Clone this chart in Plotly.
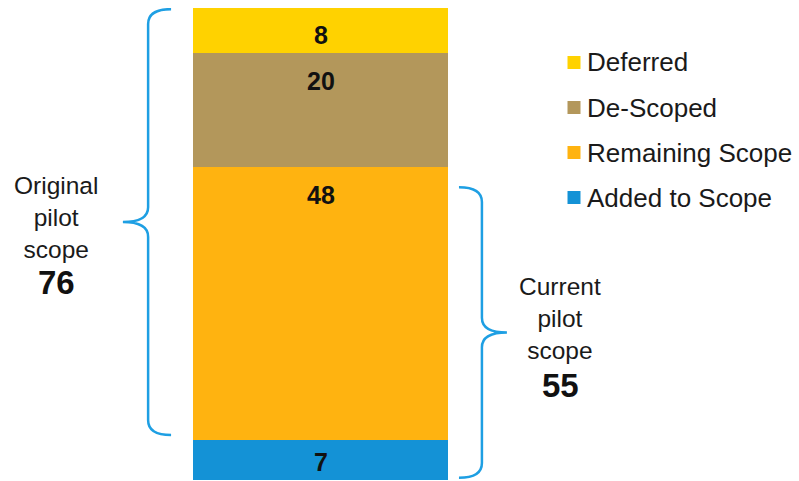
import plotly.graph_objects as go

# ---- data ----
categories = ["Added to Scope", "Remaining Scope", "De-Scoped", "Deferred"]
values = [7, 48, 20, 8]
colors = ["#1492D6", "#FFB310", "#B3975B", "#FFD200"]
original_label = "Original<br>pilot<br>scope"
original_total = 76
current_label = "Current<br>pilot<br>scope"
current_total = 55

FONT = "Liberation Sans, Arial, sans-serif"
BRACE = "#1E9FE3"
TXT = "#1a1a1a"

fig = go.Figure()
for name, v, c in zip(categories, values, colors):
    fig.add_trace(go.Bar(
        x=[0], y=[v], name=name, width=1,
        marker=dict(color=c, line=dict(width=0)),
        hoverinfo="name+y", showlegend=False,
    ))

# data labels
px_per_unit = 472 / sum(values)
off_top = 28 / px_per_unit
off_bot = 18 / px_per_unit
bottom = 0
for v in values:
    top = bottom + v
    ylab = max(top - off_top, bottom + off_bot)
    fig.add_annotation(x=0, y=ylab, xref="x", yref="y", text=f"<b>{v}</b>",
                       showarrow=False, font=dict(family=FONT, size=25, color="#111"),
                       xanchor="center", yanchor="middle")
    bottom = top


def brace(x_end, x_v, x_tip, y_top, y_bot, r):
    y_mid = (y_top + y_bot) / 2
    return (f"M {x_end},{y_top} Q {x_v},{y_top} {x_v},{y_top - r} "
            f"L {x_v},{y_mid + r} Q {x_v},{y_mid} {x_tip},{y_mid} "
            f"Q {x_v},{y_mid} {x_v},{y_mid - r} "
            f"L {x_v},{y_bot + r} Q {x_v},{y_bot} {x_end},{y_bot}")


fig.add_shape(type="path", xref="x", yref="y",
              path=brace(-0.586, -0.676, -0.775, 82.8, 7.9, 2.6),
              line=dict(color=BRACE, width=2.5))
fig.add_shape(type="path", xref="x", yref="y",
              path=brace(0.543, 0.633, 0.731, 51.5, 0.4, 2.6),
              line=dict(color=BRACE, width=2.5))


def px2x(px):
    return (px - 320.5) / 255


def py2y(py):
    return (480 - py) / px_per_unit


# side labels
fig.add_annotation(x=px2x(56), y=py2y(217), xref="x", yref="y",
                   text=original_label, showarrow=False,
                   font=dict(family=FONT, size=24.5, color=TXT),
                   xanchor="center", yanchor="middle", align="center")
fig.add_annotation(x=px2x(56), y=py2y(282), xref="x", yref="y",
                   text=f"<b>{original_total}</b>", showarrow=False,
                   font=dict(family=FONT, size=33, color="#111"),
                   xanchor="center", yanchor="middle")
fig.add_annotation(x=px2x(560), y=py2y(318), xref="x", yref="y",
                   text=current_label, showarrow=False,
                   font=dict(family=FONT, size=24.5, color=TXT),
                   xanchor="center", yanchor="middle", align="center")
fig.add_annotation(x=px2x(560), y=py2y(385), xref="x", yref="y",
                   text=f"<b>{current_total}</b>", showarrow=False,
                   font=dict(family=FONT, size=33, color="#111"),
                   xanchor="center", yanchor="middle")

# custom legend (top row = last stacked series)
legend_rows = list(zip(categories, colors))[::-1]
for i, (name, c) in enumerate(legend_rows):
    cy = 62.5 + 45 * i
    fig.add_shape(type="rect", xref="paper", yref="paper",
                  x0=567.5 / 799, x1=580.5 / 799,
                  y0=(480 - (cy + 6.5)) / 472, y1=(480 - (cy - 6.5)) / 472,
                  fillcolor=c, line=dict(width=0))
    fig.add_annotation(x=585 / 799, y=(480 - cy) / 472, xref="paper", yref="paper",
                       text=name, showarrow=False, xanchor="left", yanchor="middle",
                       font=dict(family=FONT, size=26, color=TXT))

xr0 = -320.5 / 255
fig.update_layout(
    width=799, height=481,
    margin=dict(l=0, r=0, t=8, b=1),
    barmode="stack",
    paper_bgcolor="white", plot_bgcolor="white",
    xaxis=dict(range=[xr0, xr0 + 799 / 255], visible=False, fixedrange=True),
    yaxis=dict(range=[0, sum(values)], visible=False, fixedrange=True),
    showlegend=False,
)

fig.write_html("out.html")
